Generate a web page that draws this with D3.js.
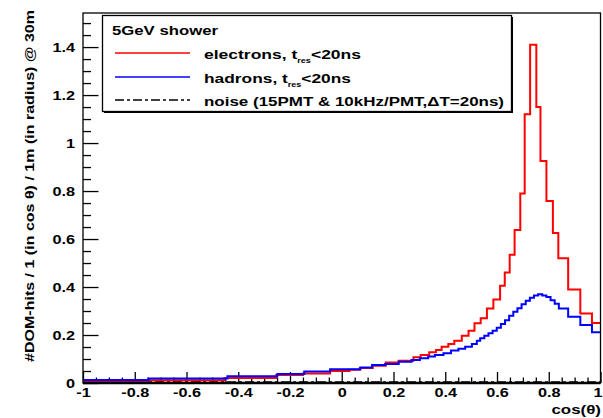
<!DOCTYPE html>
<html>
<head>
<meta charset="utf-8">
<script src="https://cdn.jsdelivr.net/npm/d3@7"></script>
<style>
  body { margin: 0; background: #fff; }
  text { font-family: "Liberation Sans", Arial, sans-serif; font-weight: bold; fill: #000; }
</style>
</head>
<body>
<script>
// histogram bin edges (cos theta) and contents
const redEdges = [-1, -0.755, -0.453, -0.253, -0.15, -0.045, 0.03, 0.07, 0.12, 0.17, 0.22,
  0.277, 0.305, 0.338, 0.364, 0.386, 0.412, 0.435, 0.464, 0.49, 0.513, 0.537, 0.561, 0.586,
  0.612, 0.63, 0.649, 0.668, 0.69, 0.707, 0.728, 0.752, 0.768, 0.791, 0.816, 0.837, 0.875,
  0.922, 0.967, 1];
const redValues = [0.004, 0.011, 0.021, 0.033, 0.04, 0.05, 0.055, 0.062, 0.072, 0.085, 0.093,
  0.107, 0.117, 0.128, 0.1375, 0.151, 0.1625, 0.176, 0.197, 0.218, 0.249, 0.27, 0.311, 0.348,
  0.405, 0.46, 0.535, 0.638, 0.79, 1.12, 1.41, 1.15, 0.925, 0.758, 0.625, 0.52, 0.39, 0.29, 0.25];

const blueEdges = [-1, -0.747, -0.442, -0.249, -0.145, -0.045, 0.072, 0.117, 0.168, 0.22, 0.27,
  0.302, 0.334, 0.36, 0.393, 0.422, 0.451, 0.477, 0.503, 0.522, 0.535, 0.551, 0.567, 0.583,
  0.599, 0.615, 0.631, 0.647, 0.663, 0.679, 0.695, 0.711, 0.727, 0.743, 0.759, 0.775, 0.791,
  0.807, 0.823, 0.839, 0.875, 0.922, 0.967, 1];
const blueValues = [0.013, 0.019, 0.028, 0.038, 0.048, 0.057, 0.065, 0.075, 0.079, 0.089, 0.096,
  0.103, 0.11, 0.117, 0.124, 0.135, 0.143, 0.151, 0.1625, 0.176, 0.186, 0.197, 0.207, 0.218,
  0.23, 0.246, 0.262, 0.28, 0.297, 0.312, 0.328, 0.343, 0.355, 0.365, 0.37, 0.365, 0.358,
  0.345, 0.33, 0.31, 0.276, 0.242, 0.212];

const noiseEdges = [-1, 1];
const noiseValues = [0.003];

const xMajor = [-1, -0.8, -0.6, -0.4, -0.2, 0, 0.2, 0.4, 0.6, 0.8, 1];
const yMajor = [0, 0.2, 0.4, 0.6, 0.8, 1, 1.2, 1.4];

const W = 603, H = 418;
const margin = {top: 13, right: 2.5, bottom: 35, left: 83};
const x = d3.scaleLinear().domain([-1, 1]).range([margin.left, W - margin.right]);
const y = d3.scaleLinear().domain([0, 1.542]).range([H - margin.bottom, margin.top]);

const svg = d3.select("body").append("svg")
  .attr("width", W).attr("height", H);

// the reference font runs wider than Liberation Sans at the same height
function widen(sel, f) {
  sel.each(function () {
    const len = this.getComputedTextLength();
    d3.select(this).attr("textLength", len * f).attr("lengthAdjust", "spacingAndGlyphs");
  });
}

svg.append("clipPath").attr("id", "frame")
  .append("rect")
  .attr("x", x(-1)).attr("y", y(1.542))
  .attr("width", x(1) - x(-1)).attr("height", y(0) - y(1.542));

// minor ticks every 0.05
const xMinor = d3.range(-1, 1.0001, 0.05).map(d => +d.toFixed(2)).filter(d => !xMajor.includes(d));
const yMinor = d3.range(0, 1.54, 0.05).map(d => +d.toFixed(2)).filter(d => !yMajor.includes(d));
const fmt = d => String(+d.toFixed(1));

// x axis
svg.append("g")
  .attr("transform", "translate(0," + y(0) + ")")
  .call(d3.axisBottom(x).tickValues(xMajor).tickSize(-11).tickPadding(5).tickFormat(fmt))
  .call(g => g.select(".domain").remove())
  .call(g => g.selectAll("line").attr("stroke-width", 1.3))
  .call(g => g.selectAll("text").attr("font-size", 13).attr("font-family", null)
    .attr("dx", d => d === 1 ? -3 : 0).call(widen, 1.25));
svg.append("g")
  .attr("transform", "translate(0," + y(0) + ")")
  .call(d3.axisBottom(x).tickValues(xMinor).tickSize(-5.5).tickFormat(""))
  .call(g => g.select(".domain").remove())
  .call(g => g.selectAll("line").attr("stroke-width", 1.3));

// y axis
svg.append("g")
  .attr("transform", "translate(" + x(-1) + ",0)")
  .call(d3.axisLeft(y).tickValues(yMajor).tickSize(-15.5).tickPadding(8).tickFormat(fmt))
  .call(g => g.select(".domain").remove())
  .call(g => g.selectAll("line").attr("stroke-width", 1.3))
  .call(g => g.selectAll("text").attr("font-size", 13).attr("font-family", null).call(widen, 1.25));
svg.append("g")
  .attr("transform", "translate(" + x(-1) + ",0)")
  .call(d3.axisLeft(y).tickValues(yMinor).tickSize(-8).tickFormat(""))
  .call(g => g.select(".domain").remove())
  .call(g => g.selectAll("line").attr("stroke-width", 1.3));

// histograms drawn as step outlines
function steps(edges, values) {
  const pts = [];
  values.forEach((v, i) => {
    pts.push([edges[i], v]);
    pts.push([edges[i + 1], v]);
  });
  return pts;
}
const line = d3.line().x(d => x(d[0])).y(d => y(d[1]));

const plot = svg.append("g").attr("clip-path", "url(#frame)");
plot.append("path")
  .attr("d", line(steps(noiseEdges, noiseValues)))
  .attr("fill", "none").attr("stroke", "#000").attr("stroke-width", 2)
  .attr("stroke-dasharray", "9,3,3,3");
plot.append("path")
  .attr("d", line(steps(redEdges, redValues)))
  .attr("fill", "none").attr("stroke", "#ff0000").attr("stroke-width", 2);
plot.append("path")
  .attr("d", line(steps(blueEdges, blueValues)))
  .attr("fill", "none").attr("stroke", "#0000ff").attr("stroke-width", 2);

// frame
svg.append("rect")
  .attr("x", x(-1)).attr("y", y(1.542))
  .attr("width", x(1) - x(-1)).attr("height", y(0) - y(1.542))
  .attr("fill", "none").attr("stroke", "#000").attr("stroke-width", 1.3);
svg.append("line")
  .attr("x1", x(-1)).attr("x2", x(1)).attr("y1", y(0)).attr("y2", y(0))
  .attr("stroke", "#000").attr("stroke-width", 2.5);

// axis titles
svg.append("text")
  .attr("x", W - 2).attr("y", 414)
  .attr("text-anchor", "end").attr("font-size", 13)
  .text("cos(\u03b8)")
  .call(widen, 1.3);
svg.append("text")
  .attr("transform", "translate(34,10) rotate(-90)")
  .attr("text-anchor", "end").attr("font-size", 12.5)
  .text("#DOM-hits / 1 (in cos \u03b8) / 1m (in radius) @ 30m")
  .attr("textLength", 352).attr("lengthAdjust", "spacingAndGlyphs");

// legend
const leg = svg.append("g");
leg.append("rect")
  .attr("x", 104).attr("y", 17).attr("width", 409).attr("height", 96)
  .attr("fill", "#000");
leg.append("rect")
  .attr("x", 102.5).attr("y", 15.5).attr("width", 409).attr("height", 96)
  .attr("fill", "#fff").attr("stroke", "#000").attr("stroke-width", 1.3);
leg.append("text").attr("x", 112).attr("y", 35).attr("font-size", 13.5).text("5GeV shower")
  .attr("textLength", 106).attr("lengthAdjust", "spacingAndGlyphs");

const entries = [
  {color: "#ff0000", dash: null, y: 53, len: 157, label: ["electrons, t", "res", "<20ns"]},
  {color: "#0000ff", dash: null, y: 77, len: 147, label: ["hadrons, t", "res", "<20ns"]},
  {color: "#000", dash: "9,3,3,3", y: 100, len: 300, label: ["noise (15PMT & 10kHz/PMT,\u0394T=20ns)"]}
];
entries.forEach(e => {
  leg.append("line")
    .attr("x1", 115).attr("x2", 190).attr("y1", e.y).attr("y2", e.y)
    .attr("stroke", e.color).attr("stroke-width", 1.6)
    .attr("stroke-dasharray", e.dash);
  const t = leg.append("text").attr("x", 204).attr("y", e.y + 6).attr("font-size", 13.5)
    .attr("textLength", e.len).attr("lengthAdjust", "spacingAndGlyphs");
  t.append("tspan").text(e.label[0]);
  if (e.label.length > 1) {
    t.append("tspan").attr("font-size", 7).attr("dy", 4).text(e.label[1]);
    t.append("tspan").attr("dy", -4).text(e.label[2]);
  }
});
</script>
</body>
</html>
